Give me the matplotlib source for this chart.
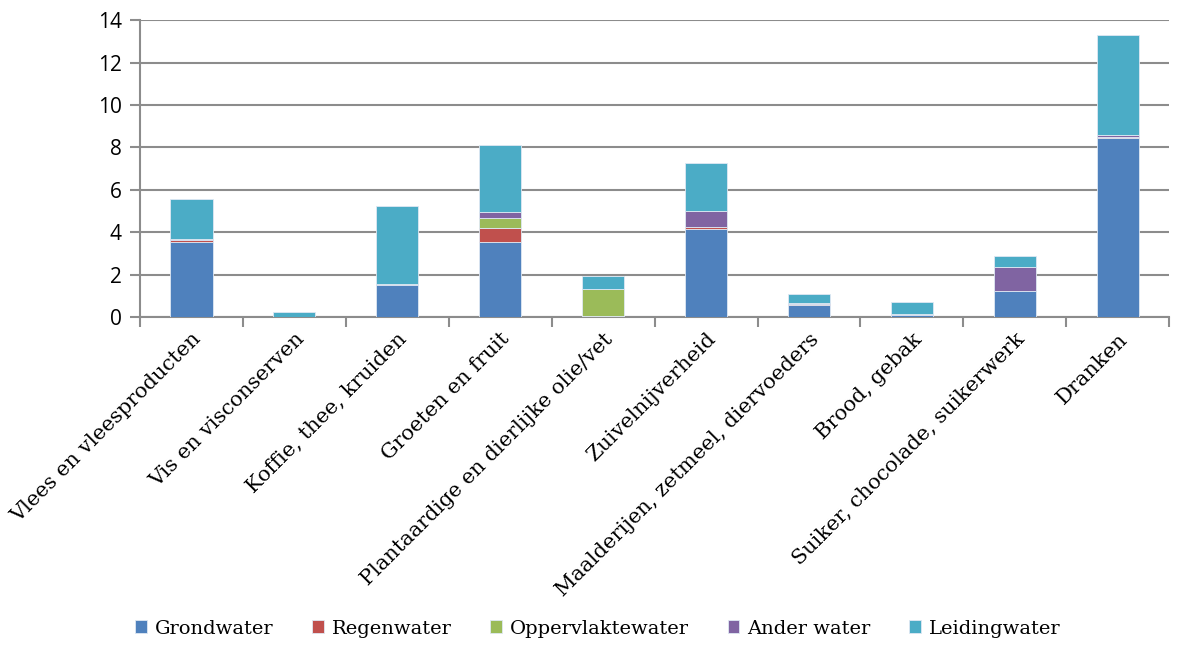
import matplotlib.pyplot as plt
import numpy as np

categories = ['Vlees en vleesproducten', 'Vis en visconserven', 'Koffie, thee, kruiden',
              'Groeten en fruit', 'Plantaardige en dierlijke olie/vet', 'Zuivelnijverheid',
              'Maalderijen, zetmeel, diervoeders', 'Brood, gebak',
              'Suiker, chocolade, suikerwerk', 'Dranken']
grondwater   = [3.55, 0.0, 1.50, 3.52, 0.05, 4.15, 0.58, 0.10, 1.25, 8.45]
regenwater   = [0.10, 0.0, 0.00, 0.69, 0.02, 0.08, 0.04, 0.00, 0.00, 0.05]
oppervlakte  = [0.00, 0.0, 0.00, 0.44, 1.24, 0.00, 0.00, 0.00, 0.00, 0.00]
ander_water  = [0.05, 0.0, 0.05, 0.29, 0.00, 0.75, 0.06, 0.05, 1.13, 0.08]
leidingwater = [1.87, 0.25, 3.68, 3.17, 0.64, 2.27, 0.40, 0.54, 0.50, 4.72]

series = [('Grondwater', grondwater, '#4F81BD'),
          ('Regenwater', regenwater, '#C0504D'),
          ('Oppervlaktewater', oppervlakte, '#9BBB59'),
          ('Ander water', ander_water, '#8064A2'),
          ('Leidingwater', leidingwater, '#4BACC6')]

fig = plt.figure(figsize=(11.79, 6.55), dpi=100)
ax = fig.add_axes([0.1187, 0.516, 0.873, 0.453])

x = np.arange(len(categories))
bottom = np.zeros(len(categories))
for name, vals, col in series:
    ax.bar(x, vals, 0.41, bottom=bottom, color=col, label=name,
           edgecolor='#dfe8f3', linewidth=0.6, zorder=3)
    bottom += np.array(vals)

ax.set_xlim(-0.5, len(categories) - 0.5)
ax.set_ylim(0, 14)
ax.set_yticks(range(0, 15, 2))
ax.yaxis.grid(True, color='#8c8c8c', linewidth=1.5, zorder=0)
for s in ['top', 'right']:
    ax.spines[s].set_visible(False)
for s in ['left', 'bottom']:
    ax.spines[s].set_color('#8c8c8c')
    ax.spines[s].set_linewidth(1.5)

ax.tick_params(axis='y', length=7, width=1.5, color='#8c8c8c', labelsize=15, pad=6)
for lab in ax.get_yticklabels():
    lab.set_family('Open Sans')

# ticks on category boundaries, labels at centers
ax.set_xticks(np.arange(-0.5, len(categories), 1.0), minor=True)
ax.set_xticks(x)
ax.tick_params(axis='x', which='minor', length=7, width=1.5, color='#8c8c8c')
ax.tick_params(axis='x', which='major', length=0, pad=9)
ax.set_xticklabels(categories, rotation=45, ha='right', rotation_mode='anchor',
                   fontsize=15, family='DejaVu Serif')

leg = fig.legend(loc='lower center', ncol=5, frameon=False, bbox_to_anchor=(0.507, 0.0),
                 prop={'family': 'DejaVu Serif', 'size': 14},
                 handlelength=0.6, handleheight=0.6, handletextpad=0.4, columnspacing=2.0)

fig.savefig('out.png', dpi=100)
